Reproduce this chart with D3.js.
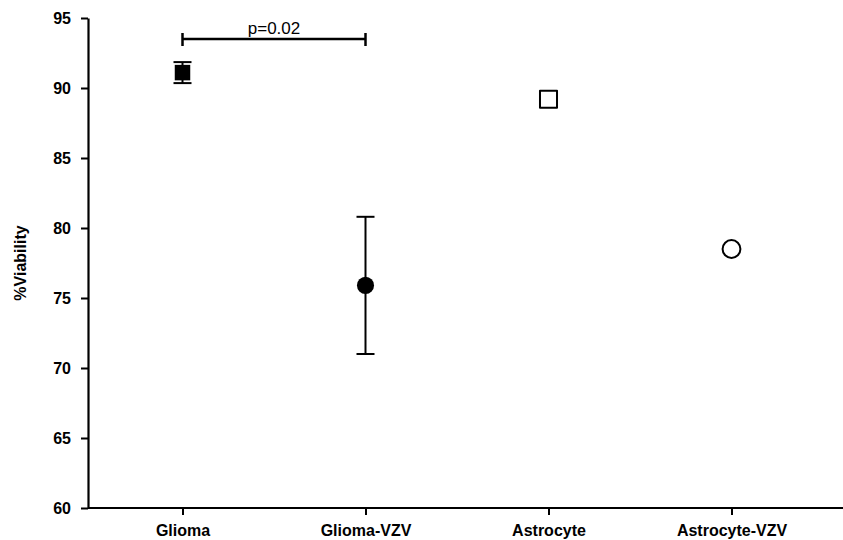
<!DOCTYPE html>
<html>
<head>
<meta charset="utf-8">
<script src="https://cdn.jsdelivr.net/npm/d3@7"></script>
<style>
  body { margin: 0; background: #fff; }
  text { font-family: "Liberation Sans", Arial, sans-serif; }
</style>
</head>
<body>
<div id="chart-area"></div>
<script>
// data
let categories = ["Glioma", "Glioma-VZV", "Astrocyte", "Astrocyte-VZV"];
let means = [91.1, 75.9, 89.2, 78.5];
let errLow = [90.35, 71.0, null, null];
let errHigh = [91.85, 80.8, null, null];
let shapes = ["square", "circle", "square", "circle"];
let filled = [true, true, false, false];
let yTicks = [60, 65, 70, 75, 80, 85, 90, 95];
let pLabel = "p=0.02";
let pPair = ["Glioma", "Glioma-VZV"];
let pLevel = 93.5;

let W = 843, H = 540;
let margin = {top: 18, right: 0, bottom: 32, left: 88};

let svg = d3.select("#chart-area")
    .append("svg")
    .attr("width", W)
    .attr("height", H);

let y = d3.scaleLinear()
    .domain([60, 95])
    .range([H - margin.bottom, margin.top]);

// categories sit ~183px apart, first one ~94px from the axis
let x = d3.scalePoint()
    .domain(categories)
    .range([182.5, 731.5]);

// y axis
let yAxis = svg.append("g")
    .attr("transform", "translate(" + margin.left + ",0)")
    .call(d3.axisLeft(y).tickValues(yTicks).tickSize(7).tickPadding(10).tickSizeOuter(0));
yAxis.select(".domain").attr("stroke-width", 2.2);
yAxis.selectAll(".tick line").attr("stroke-width", 2);
yAxis.selectAll("text")
    .style("font-size", "16px")
    .style("font-weight", "bold")
    .attr("fill", "#000");

// x axis
let xAxis = svg.append("g")
    .attr("transform", "translate(0," + y(60) + ")")
    .call(d3.axisBottom(x).tickSize(7).tickPadding(10).tickSizeOuter(0));
xAxis.select(".domain")
    .attr("d", "M" + margin.left + ",0H" + W)
    .attr("stroke-width", 2.2);
xAxis.selectAll(".tick line").attr("stroke-width", 2);
xAxis.selectAll("text")
    .style("font-size", "16px")
    .style("font-weight", "bold")
    .attr("fill", "#000");

// y label
svg.append("text")
    .attr("transform", "translate(26," + y(77.5) + ") rotate(-90)")
    .attr("text-anchor", "middle")
    .style("font-size", "16px")
    .style("font-weight", "bold")
    .text("%Viability");

// error bars
let capW = 9;
categories.forEach((c, i) => {
    if (errLow[i] == null) return;
    let cx = x(c);
    let g = svg.append("g").attr("stroke", "#000").attr("stroke-width", 2);
    g.append("line").attr("x1", cx).attr("x2", cx).attr("y1", y(errLow[i])).attr("y2", y(errHigh[i]));
    g.append("line").attr("x1", cx - capW).attr("x2", cx + capW).attr("y1", y(errLow[i])).attr("y2", y(errLow[i]));
    g.append("line").attr("x1", cx - capW).attr("x2", cx + capW).attr("y1", y(errHigh[i])).attr("y2", y(errHigh[i]));
});

// points
let sym = {square: d3.symbolSquare, circle: d3.symbolCircle};
svg.selectAll(".pt")
    .data(categories)
    .enter()
    .append("path")
    .attr("class", "pt")
    .attr("transform", (d, i) => "translate(" + x(d) + "," + y(means[i]) + ")")
    .attr("d", (d, i) => d3.symbol().type(sym[shapes[i]]).size(filled[i] ? (shapes[i] == "square" ? 240 : 230) : (shapes[i] == "square" ? 290 : 250))())
    .attr("fill", (d, i) => filled[i] ? "#000" : "#fff")
    .attr("stroke", "#000")
    .attr("stroke-width", (d, i) => filled[i] ? 0 : 2)
    .attr("stroke-linejoin", "round");

// significance bracket
let bx1 = x(pPair[0]), bx2 = x(pPair[1]), by = y(pLevel);
let br = svg.append("g").attr("stroke", "#000").attr("stroke-width", 2.5);
br.append("line").attr("x1", bx1).attr("x2", bx2).attr("y1", by).attr("y2", by);
br.append("line").attr("x1", bx1).attr("x2", bx1).attr("y1", by - 6).attr("y2", by + 7);
br.append("line").attr("x1", bx2).attr("x2", bx2).attr("y1", by - 6).attr("y2", by + 7);
svg.append("text")
    .attr("x", (bx1 + bx2) / 2)
    .attr("y", by - 5)
    .attr("text-anchor", "middle")
    .style("font-size", "17px")
    .text(pLabel);
</script>
</body>
</html>
